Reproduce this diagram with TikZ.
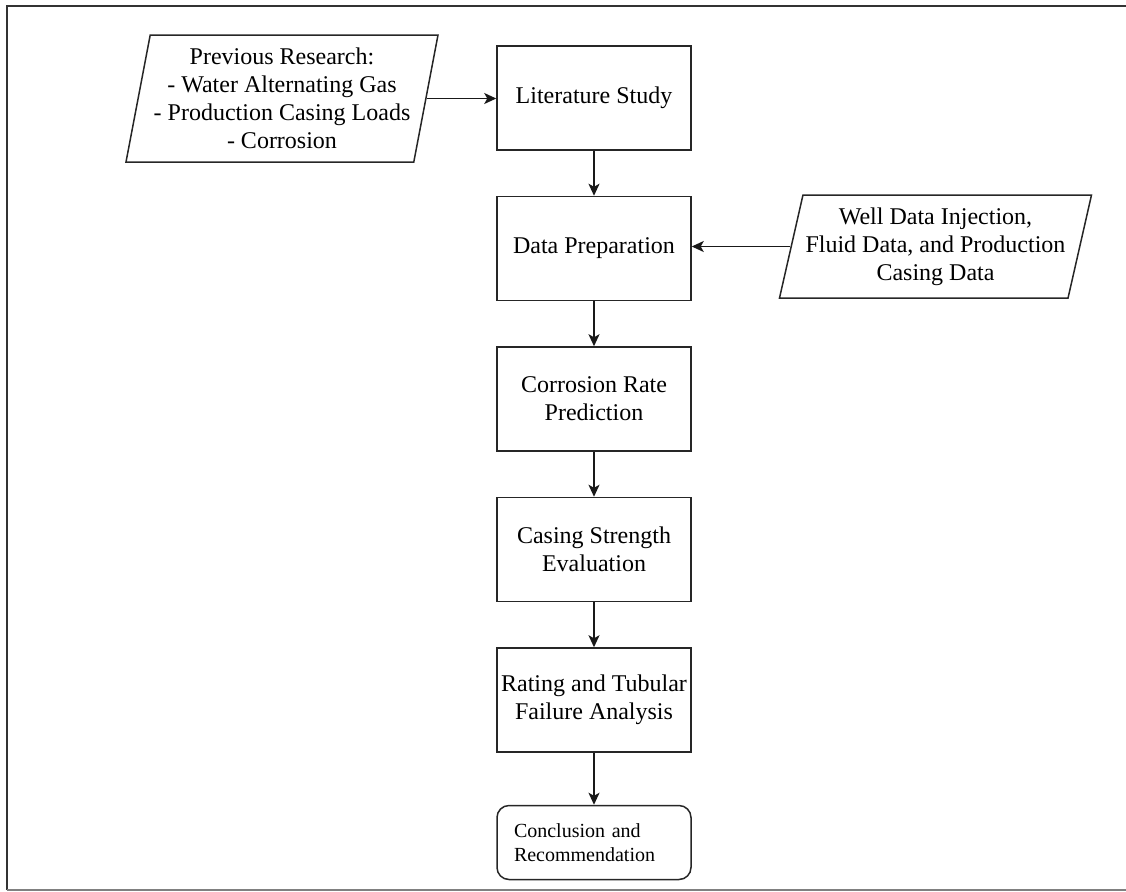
\documentclass[tikz,border=0pt]{standalone}
\usepackage{fontspec}
\setmainfont{Liberation Serif}
\usetikzlibrary{arrows.meta, positioning, shapes.geometric}

\begin{document}
\begin{tikzpicture}[x=0.5pt,y=-0.5pt,
  stepbox/.style={draw=black!85, line width=0.75pt, minimum width=97pt, minimum height=52pt,
    align=center, inner sep=2pt, font=\fontsize{12}{14}\selectfont},
  databox/.style={draw=black!85, line width=0.75pt, trapezium, trapezium stretches body,
    minimum width=156pt, align=center, inner sep=1pt, font=\fontsize{12}{14}\selectfont},
  flow/.style={draw=black!90, line width=0.8pt, -{Stealth[length=6pt,width=5.5pt,inset=1.5pt]}}]
\useasboundingbox (0,0) rectangle (1126,891);
% Outer frame (left, top and bottom edges only)
\draw[line width=1pt, black!80] (7,890) -- (7,6) -- (1126,6);
\draw[line width=0.6pt, black!50] (7,890) -- (1126,890);
% Main column of steps
\node[stepbox] (lit) at (594,98) {Literature Study};
\node[stepbox, below=22.5pt of lit] (prep) {Data Preparation};
\node[stepbox, below=22.5pt of prep] (rate) {Corrosion Rate\\Prediction};
\node[stepbox, below=22.5pt of rate] (strength) {Casing Strength\\Evaluation};
\node[stepbox, below=22.5pt of strength] (rating) {Rating and Tubular\\Failure Analysis};
\node[stepbox, below=26pt of rating, rounded corners=6pt, minimum height=37pt,
  align=left, text width=80pt, inner xsep=8.5pt, font=\fontsize{10}{12}\selectfont] (concl)
  {Conclusion and\\Recommendation};
% Input data (parallelograms)
\node[databox, trapezium left angle=77, trapezium right angle=103, minimum height=63.5pt]
  (prev) at (282,98.5) {Previous Research:\\- Water Alternating Gas\\- Production Casing Loads\\- Corrosion};
\node[databox, trapezium left angle=74, trapezium right angle=106, minimum height=51.5pt]
  (well) at (935.5,246.5) {Well Data Injection,\\Fluid Data, and Production\\Casing Data};
% Connectors
\draw[flow] (prev.east) -- (prev.east -| lit.west);
\draw[flow] (well.west) -- (well.west -| prep.east);
\draw[flow] (lit) -- (prep);
\draw[flow] (prep) -- (rate);
\draw[flow] (rate) -- (strength);
\draw[flow] (strength) -- (rating);
\draw[flow] (rating) -- (concl);
\end{tikzpicture}
\end{document}
